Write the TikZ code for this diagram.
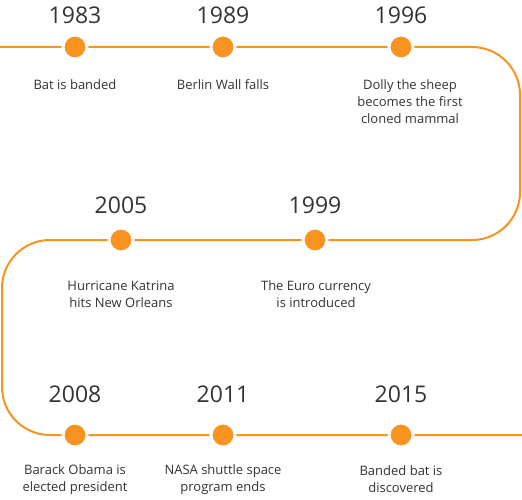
\documentclass[tikz,border=0pt]{standalone}
\usepackage{fontspec}
\setmainfont{Open Sans}
\definecolor{tlorange}{HTML}{F7931E}
\definecolor{tltext}{HTML}{333333}
\begin{document}
\begin{tikzpicture}[x=1pt,y=-1pt,
  tline/.style={draw=tlorange,line width=2pt,rounded corners=48pt},
  dot/.style={circle,fill=tlorange,draw=white,line width=3pt,minimum size=24pt,inner sep=0pt},
  year/.style={font=\fontsize{23}{26}\selectfont,text=tltext,inner sep=0pt},
  lbl/.style={font=\fontsize{13}{17}\selectfont,text=tltext,align=center,inner sep=0pt}]
\useasboundingbox (0,0) rectangle (522,500);
% path
\coordinate (s) at (0,47);
\coordinate (e) at (522,435);
\draw[tline] (s) -- (520,47) -- (520,240) -- (2,240) -- (2,435) -- (e);
% row 1
\node[dot] (d1) at (75,47) {};
\node[dot] (d2) at (223,47) {};
\node[dot] (d3) at (401,47) {};
\node[year] (y1) at (75,15) {1983};
\node[year] (y2) at (223,15) {1989};
\node[year] (y3) at (401,15) {1996};
\node[lbl] (l1) at (75,85) {Bat is banded};
\node[lbl] (l2) at (223,85) {Berlin Wall falls};
\node[lbl] (l3) at (410,102) {Dolly the sheep\\becomes the first\\cloned mammal};
% row 2
\node[dot] (d4) at (315,240) {};
\node[dot] (d5) at (121,240) {};
\node[year] (y4) at (315,205) {1999};
\node[year] (y5) at (121,205) {2005};
\node[lbl] (l4) at (316,294) {The Euro currency\\is introduced};
\node[lbl] (l5) at (121,294) {Hurricane Katrina\\hits New Orleans};
% row 3
\node[dot] (d6) at (75,435) {};
\node[dot] (d7) at (223,435) {};
\node[dot] (d8) at (401,435) {};
\node[year] (y6) at (75,394) {2008};
\node[year] (y7) at (223,394) {2011};
\node[year] (y8) at (401,394) {2015};
\node[lbl] (l6) at (75,479.5) {Barack Obama is\\elected president};
\node[lbl] (l7) at (223,479.5) {NASA shuttle space\\program ends};
\node[lbl] (l8) at (401,479.5) {Banded bat is\\discovered};
\end{tikzpicture}
\end{document}
